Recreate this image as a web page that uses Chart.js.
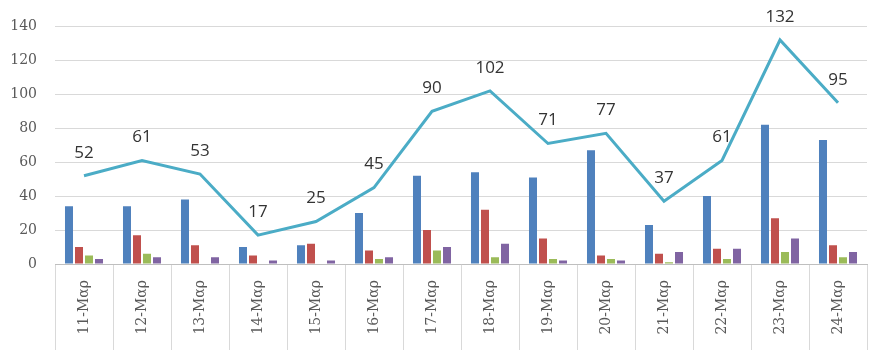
<!DOCTYPE html>
<html>
<head>
    <meta charset='utf-8'>
    <title>Κρούσματα ανά ημέρα</title>
    <script src="https://cdn.jsdelivr.net/npm/chart.js@4/dist/chart.umd.min.js"></script>
    <style>
        body { margin: 0; background: #fff; }
        #wrap { width: 880px; height: 350px; }
    </style>
</head>
<body>
    <div id="wrap"><canvas id="myChart" width="880" height="350"></canvas></div>
    <script>
        const labels = ['11-Μαρ', '12-Μαρ', '13-Μαρ', '14-Μαρ', '15-Μαρ', '16-Μαρ', '17-Μαρ',
            '18-Μαρ', '19-Μαρ', '20-Μαρ', '21-Μαρ', '22-Μαρ', '23-Μαρ', '24-Μαρ'];
        const seriesBlue = [34, 34, 38, 10, 11, 30, 52, 54, 51, 67, 23, 40, 82, 73];
        const seriesRed = [10, 17, 11, 5, 12, 8, 20, 32, 15, 5, 6, 9, 27, 11];
        const seriesGreen = [5, 6, 0, 0, 0, 3, 8, 4, 3, 3, 1, 3, 7, 4];
        const seriesPurple = [3, 4, 4, 2, 2, 4, 10, 12, 2, 2, 7, 9, 15, 7];
        const totals = [52, 61, 53, 17, 25, 45, 90, 102, 71, 77, 37, 61, 132, 95];
        const yTicks = [0, 20, 40, 60, 80, 100, 120, 140];

        // labels above the line points (no datalabels plugin offline)
        const lineLabels = {
            id: 'lineLabels',
            afterDatasetsDraw(chart) {
                const ctx = chart.ctx;
                const meta = chart.getDatasetMeta(4);
                ctx.save();
                ctx.font = '17px "Open Sans"';
                ctx.fillStyle = '#333333';
                ctx.textAlign = 'center';
                ctx.textBaseline = 'middle';
                meta.data.forEach((pt, i) => {
                    ctx.fillText(totals[i], pt.x, pt.y - 23);
                });
                ctx.restore();
            }
        };

        const barOpts = { categoryPercentage: 0.69, barPercentage: 0.8, order: 1 };

        const ctx = document.getElementById('myChart').getContext('2d');
        const myChart = new Chart(ctx, {
            type: 'bar',
            data: {
                labels: labels,
                datasets: [
                    { data: seriesBlue, backgroundColor: '#4F81BD', ...barOpts },
                    { data: seriesRed, backgroundColor: '#C0504D', ...barOpts },
                    { data: seriesGreen, backgroundColor: '#9BBB59', ...barOpts },
                    { data: seriesPurple, backgroundColor: '#8064A2', ...barOpts },
                    {
                        type: 'line',
                        data: totals,
                        borderColor: '#4BACC6',
                        borderWidth: 3,
                        pointRadius: 0,
                        tension: 0,
                        order: 0
                    }
                ]
            },
            options: {
                responsive: false,
                animation: false,
                layout: { padding: { top: 23, right: 13, left: 0, bottom: 0 } },
                plugins: {
                    legend: { display: false },
                    tooltip: { enabled: false }
                },
                scales: {
                    x: {
                        offset: true,
                        grid: {
                            drawOnChartArea: false,
                            drawTicks: true,
                            tickLength: 90,
                            color: '#d9d9d9'
                        },
                        border: { color: '#bfbfbf' },
                        ticks: {
                            minRotation: 90,
                            maxRotation: 90,
                            padding: -74,
                            color: '#595959',
                            font: { family: '"DejaVu Serif"', size: 14 }
                        },
                        afterFit: (s) => { s.height = 86; }
                    },
                    y: {
                        min: 0,
                        max: 140,
                        afterBuildTicks: (s) => { s.ticks = yTicks.map(v => ({ value: v })); },
                        grid: { drawTicks: false, color: '#d9d9d9' },
                        border: { display: false },
                        ticks: {
                            padding: 18,
                            color: '#595959',
                            font: { family: '"DejaVu Serif"', size: 14 }
                        },
                        afterFit: (s) => { s.width = 55; }
                    }
                }
            },
            plugins: [lineLabels]
        });
    </script>
</body>
</html>
